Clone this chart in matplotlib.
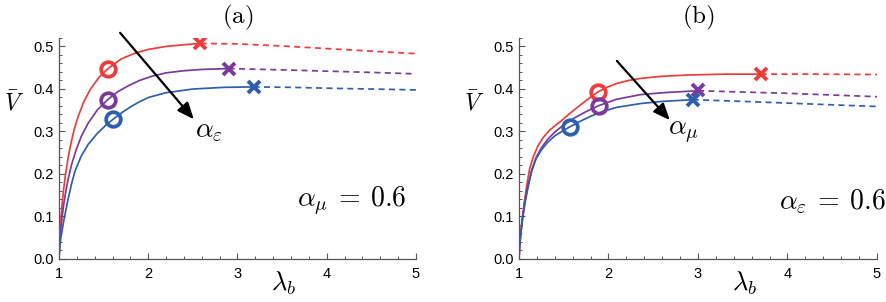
import matplotlib
matplotlib.use("Agg")
import matplotlib.pyplot as plt
from matplotlib.ticker import MultipleLocator

plt.rcParams['mathtext.fontset'] = 'cm'
plt.rcParams['font.family'] = ['Liberation Sans', 'DejaVu Sans']

RED = '#ef3b3b'
PURPLE = '#7b3a9b'
BLUE = '#2d5fae'

# ---------------- panel (a): alpha_mu = 0.6 ----------------
a_red_x = [1.0, 1.005, 1.01, 1.02, 1.035, 1.05, 1.07, 1.1, 1.13, 1.17, 1.22, 1.28, 1.35, 1.45,
           1.55, 1.7, 1.85, 2.0, 2.2, 2.4, 2.585]
a_red_y = [0.0, 0.035, 0.057, 0.090, 0.129, 0.160, 0.194, 0.235, 0.268, 0.304, 0.338, 0.370, 0.398,
           0.427, 0.447, 0.470, 0.483, 0.492, 0.499, 0.503, 0.506]
a_pur_x = [1.0, 1.005, 1.01, 1.02, 1.035, 1.05, 1.07, 1.1, 1.14, 1.19, 1.25, 1.33, 1.43, 1.545,
           1.66, 1.78, 1.9, 2.04, 2.2, 2.4, 2.6, 2.9]
a_pur_y = [0.0, 0.027, 0.043, 0.069, 0.099, 0.124, 0.151, 0.185, 0.221, 0.255, 0.288, 0.320, 0.350,
           0.374, 0.393, 0.407, 0.419, 0.429, 0.437, 0.442, 0.445, 0.447]
a_blu_x = [1.0, 1.005, 1.01, 1.02, 1.037, 1.06, 1.097, 1.14, 1.18, 1.25, 1.33, 1.43, 1.52, 1.605,
           1.7, 1.8, 1.9, 2.0, 2.19, 2.5, 2.85, 3.18]
a_blu_y = [0.0, 0.019, 0.031, 0.049, 0.070, 0.097, 0.136, 0.176, 0.207, 0.242, 0.270, 0.295, 0.313,
           0.328, 0.343, 0.357, 0.369, 0.379, 0.390, 0.399, 0.403, 0.404]
a_red_dx = [2.585, 3.0, 3.5, 4.0, 4.5, 5.0]
a_red_dy = [0.506, 0.505, 0.500, 0.494, 0.488, 0.482]
a_pur_dx = [2.90, 3.5, 4.0, 4.5, 4.95]
a_pur_dy = [0.447, 0.444, 0.441, 0.438, 0.435]
a_blu_dx = [3.18, 3.6, 4.0, 4.5, 5.0]
a_blu_dy = [0.404, 0.403, 0.401, 0.399, 0.397]
a_circ_x = [1.55, 1.545, 1.605]
a_circ_y = [0.447, 0.374, 0.328]
a_cross_x = [2.585, 2.90, 3.18]
a_cross_y = [0.506, 0.446, 0.404]

# ---------------- panel (b): alpha_eps = 0.6 ----------------
b_red_x = [1.0, 1.005, 1.01, 1.02, 1.04, 1.06, 1.09, 1.12, 1.16, 1.21, 1.27, 1.34, 1.42, 1.46,
           1.53, 1.61, 1.7, 1.8, 1.88, 1.96, 2.09, 2.22, 2.36, 2.6, 2.9, 3.3, 3.70]
b_red_y = [0.0, 0.023, 0.039, 0.063, 0.102, 0.135, 0.177, 0.213, 0.240, 0.265, 0.285, 0.302, 0.316,
           0.322, 0.335, 0.349, 0.364, 0.380, 0.392, 0.401, 0.412, 0.419, 0.424, 0.429, 0.432,
           0.434, 0.434]
b_pur_x = [1.0, 1.005, 1.01, 1.02, 1.04, 1.065, 1.1, 1.14, 1.19, 1.25, 1.32, 1.4, 1.5, 1.61, 1.75,
           1.89, 2.09, 2.36, 2.65, 3.0]
b_pur_y = [0.0, 0.022, 0.037, 0.060, 0.097, 0.135, 0.172, 0.207, 0.238, 0.261, 0.281, 0.298, 0.315,
           0.330, 0.346, 0.360, 0.375, 0.386, 0.391, 0.395]
b_blu_x = [1.0, 1.005, 1.01, 1.02, 1.04, 1.07, 1.1, 1.14, 1.19, 1.25, 1.32, 1.4, 1.49, 1.575, 1.68,
           1.8, 1.93, 2.09, 2.36, 2.6, 2.94]
b_blu_y = [0.0, 0.022, 0.036, 0.058, 0.094, 0.135, 0.167, 0.205, 0.235, 0.256, 0.274, 0.289, 0.301,
           0.311, 0.323, 0.335, 0.346, 0.356, 0.365, 0.370, 0.374]
b_red_dx = [3.70, 4.3, 5.0]
b_red_dy = [0.434, 0.434, 0.433]
b_pur_dx = [3.0, 3.5, 4.0, 4.5, 5.0]
b_pur_dy = [0.395, 0.392, 0.389, 0.385, 0.381]
b_blu_dx = [2.94, 3.5, 4.0, 4.5, 5.0]
b_blu_dy = [0.374, 0.370, 0.366, 0.362, 0.358]
b_circ_x = [1.88, 1.89, 1.575]
b_circ_y = [0.393, 0.360, 0.311]
b_cross_x = [3.70, 3.0, 2.94]
b_cross_y = [0.434, 0.396, 0.374]

xticks = [1, 2, 3, 4, 5]
yticks = [0.0, 0.1, 0.2, 0.3, 0.4, 0.5]

fig = plt.figure(figsize=(8.87, 3.02), dpi=100)
axA = fig.add_axes([59 / 887, 43 / 302, 357 / 887, 221.5 / 302])
axB = fig.add_axes([519 / 887, 43 / 302, 358 / 887, 221.5 / 302])

colors = [RED, PURPLE, BLUE]


def draw(ax, solid, dashed, circ, cross, title, arrow, arrow_lbl, lbl_pos, note, note_pos):
    for (sx, sy), (dx, dy), c in zip(solid, dashed, colors):
        ax.plot(sx, sy, color=c, lw=1.25, solid_capstyle='round', zorder=3)
        ax.plot(dx, dy, color=c, lw=1.25, ls=(0, (3.5, 2.5)), zorder=3)
    for x, y, c in zip(circ[0], circ[1], colors):
        ax.plot([x], [y], marker='o', ms=10.5, mfc='none', mec=c, mew=2.7, zorder=4)
    for x, y, c in zip(cross[0], cross[1], colors):
        ax.plot([x], [y], marker='x', ms=8.5, mec=c, mew=2.8, zorder=4)
    ax.set_xlim(1, 5)
    ax.set_ylim(0, 0.52)
    ax.set_xticks(xticks)
    ax.set_yticks(yticks)
    ax.set_yticklabels(['%.1f' % v for v in yticks])
    ax.xaxis.set_minor_locator(MultipleLocator(0.2))
    ax.yaxis.set_minor_locator(MultipleLocator(0.02))
    ax.tick_params(which='both', direction='in', labelsize=10.5, color='#555555', pad=4)
    ax.tick_params(which='major', length=4, width=0.8)
    ax.tick_params(which='minor', length=2.5, width=0.7)
    ax.tick_params(axis='x', pad=6)
    for s in ['top', 'right']:
        ax.spines[s].set_visible(False)
    for s in ['left', 'bottom']:
        ax.spines[s].set_color('#555555')
        ax.spines[s].set_linewidth(0.9)
    ax.text(3.0, 0.566, title, fontsize=18, ha='center', va='center')
    ax.annotate('', xy=arrow[1], xytext=arrow[0],
                arrowprops=dict(arrowstyle='-|>,head_length=1.0,head_width=0.42',
                                color='black', lw=1.6, shrinkA=0, shrinkB=0),
                annotation_clip=False, zorder=5)
    ax.text(lbl_pos[0], lbl_pos[1], arrow_lbl, fontsize=20, ha='center', va='center')
    ax.text(note_pos[0], note_pos[1], note, fontsize=20, ha='center', va='center')
    ax.text(-0.126, 0.366, r'$\bar{V}$', fontsize=17, ha='center', va='center',
            transform=ax.get_yaxis_transform())
    ax.text(3.52, -0.056, r'$\lambda_b$', fontsize=19, ha='center', va='center')


draw(axA,
     [(a_red_x, a_red_y), (a_pur_x, a_pur_y), (a_blu_x, a_blu_y)],
     [(a_red_dx, a_red_dy), (a_pur_dx, a_pur_dy), (a_blu_dx, a_blu_dy)],
     (a_circ_x, a_circ_y), (a_cross_x, a_cross_y),
     r'$(\mathrm{a})$', ((1.685, 0.531), (2.51, 0.328)),
     r'$\alpha_\varepsilon$', (2.68, 0.300),
     r'$\alpha_\mu\:=\:0.6$', (4.28, 0.136))

draw(axB,
     [(b_red_x, b_red_y), (b_pur_x, b_pur_y), (b_blu_x, b_blu_y)],
     [(b_red_dx, b_red_dy), (b_pur_dx, b_pur_dy), (b_blu_dx, b_blu_dy)],
     (b_circ_x, b_circ_y), (b_cross_x, b_cross_y),
     r'$(\mathrm{b})$', ((2.094, 0.465), (2.685, 0.326)),
     r'$\alpha_\mu$', (2.84, 0.298),
     r'$\alpha_\varepsilon\:=\:0.6$', (4.50, 0.134))

fig.savefig('out.png', dpi=100)
